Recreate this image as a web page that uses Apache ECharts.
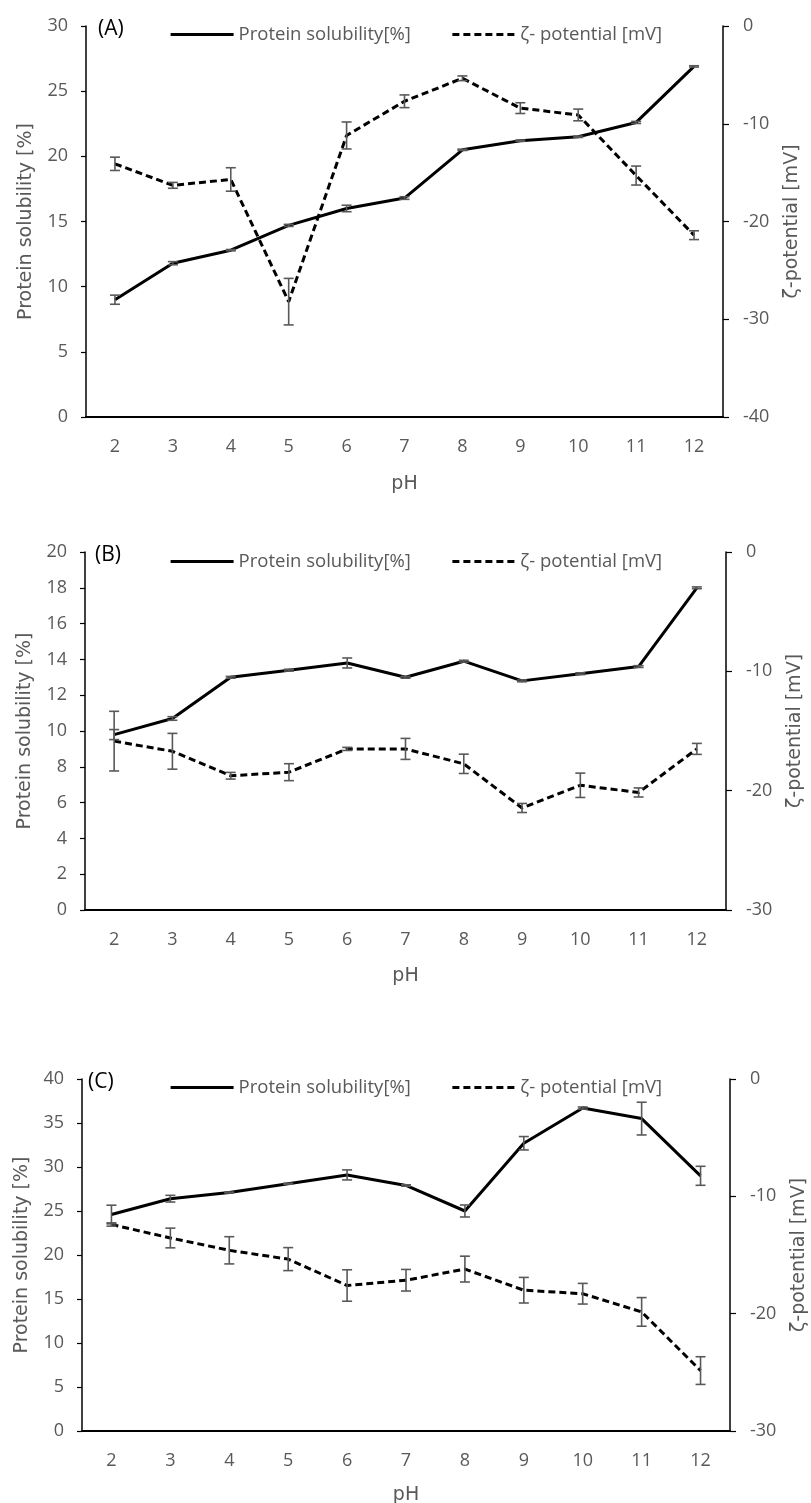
<!DOCTYPE html>
<html>
<head>
<meta charset="utf-8">
<script src="https://cdn.jsdelivr.net/npm/echarts@6/dist/echarts.min.js"></script>
<style>
  html, body { margin: 0; padding: 0; background: #fff; }
  #chart { width: 811px; height: 1503px; }
</style>
</head>
<body>
<div id="chart"></div>
<script>
// pH categories shared by all three panels
const pH = ['2', '3', '4', '5', '6', '7', '8', '9', '10', '11', '12'];

// Panel (A)
const solubilityA    = [9.0, 11.8, 12.8, 14.7, 16.0, 16.8, 20.5, 21.2, 21.5, 22.6, 26.9];
const solubilityAErr = [0.35, 0.12, 0.05, 0.08, 0.25, 0.1, 0.05, 0.05, 0.05, 0.08, 0.05];
const zetaA          = [-14.1, -16.3, -15.7, -28.2, -11.2, -7.7, -5.35, -8.4, -9.1, -15.3, -21.4];
const zetaAErr       = [0.68, 0.3, 1.2, 2.38, 1.38, 0.65, 0.24, 0.55, 0.6, 0.97, 0.45];

// Panel (B)
const solubilityB    = [9.8, 10.7, 13.0, 13.4, 13.8, 13.0, 13.9, 12.8, 13.2, 13.6, 18.0];
const solubilityBErr = [0.28, 0.1, 0.05, 0.05, 0.28, 0.05, 0.05, 0.05, 0.05, 0.05, 0.05];
const zetaB          = [-15.85, -16.7, -18.75, -18.45, -16.5, -16.5, -17.75, -21.45, -19.55, -20.15, -16.5];
const zetaBErr       = [2.5, 1.5, 0.28, 0.71, 0.13, 0.88, 0.81, 0.38, 1.02, 0.38, 0.46];

// Panel (C)
const solubilityC    = [24.6, 26.4, 27.1, 28.1, 29.1, 27.9, 25.0, 32.7, 36.7, 35.5, 29.0];
const solubilityCErr = [1.06, 0.38, 0.05, 0.05, 0.57, 0.08, 0.68, 0.76, 0.12, 1.86, 1.08];
const zetaC          = [-12.4, -13.55, -14.6, -15.35, -17.6, -17.15, -16.2, -18.0, -18.3, -19.85, -24.85];
const zetaCErr       = [0.14, 0.84, 1.16, 0.98, 1.34, 0.92, 1.1, 1.09, 0.88, 1.22, 1.18];

// Axis ranges
const solAxes  = [{ max: 30, step: 5 }, { max: 20, step: 2 }, { max: 40, step: 5 }];
const zetaAxes = [{ min: -40, step: 10 }, { min: -30, step: 10 }, { min: -30, step: 10 }];

const panelTags = ['(A)', '(B)', '(C)'];
const solName = 'Protein solubility[%]';
const zetaName = 'ζ- potential [mV]';

const panels = [
  { sol: solubilityA, solErr: solubilityAErr, zeta: zetaA, zetaErr: zetaAErr },
  { sol: solubilityB, solErr: solubilityBErr, zeta: zetaB, zetaErr: zetaBErr },
  { sol: solubilityC, solErr: solubilityCErr, zeta: zetaC, zetaErr: zetaCErr }
];

// Plot-area geometry for each panel
const frames = [
  { left: 86, right: 88, top: 26, height: 391, tagX: 98, legendTop: 20, pHGap: 58 },
  { left: 85, right: 85, top: 552, height: 358, tagX: 95, legendTop: 547, pHGap: 57 },
  { left: 82, right: 81, top: 1079, height: 352, tagX: 88, legendTop: 1073, pHGap: 55 }
];

const GREY = '#595959';
const tickFont = { color: GREY, fontSize: 18, fontFamily: 'Open Sans' };
const nameFont = { color: GREY, fontSize: 19, fontFamily: 'DejaVu Sans' };

// Vertical error bar with caps, drawn from [index, low, high]
function errorBar(params, api) {
  const x = api.value(0);
  const lo = api.coord([x, api.value(1)]);
  const hi = api.coord([x, api.value(2)]);
  const cap = 5;
  const style = { stroke: GREY, lineWidth: 1.6 };
  return {
    type: 'group',
    children: [
      { type: 'line', shape: { x1: lo[0], y1: lo[1], x2: hi[0], y2: hi[1] }, style },
      { type: 'line', shape: { x1: lo[0] - cap, y1: lo[1], x2: lo[0] + cap, y2: lo[1] }, style },
      { type: 'line', shape: { x1: hi[0] - cap, y1: hi[1], x2: hi[0] + cap, y2: hi[1] }, style }
    ]
  };
}

function bars(values, errs) {
  return values.map((v, i) => [i, v - errs[i], v + errs[i]]);
}

const grid = [], xAxis = [], yAxis = [], series = [], legend = [], title = [];

panels.forEach((p, i) => {
  const f = frames[i];
  grid.push({ left: f.left, right: f.right, top: f.top, height: f.height, containLabel: false, outerBoundsMode: 'none' });

  xAxis.push({
    type: 'category', gridIndex: i, data: pH, boundaryGap: true,
    name: 'pH', nameLocation: 'middle', nameGap: f.pHGap, nameTextStyle: nameFont,
    axisLine: { lineStyle: { color: '#000', width: 2 } },
    axisTick: { inside: true, length: 6, lineStyle: { color: '#000', width: 1.5 } },
    axisLabel: Object.assign({ margin: 21 }, tickFont),
    splitLine: { show: false }
  });

  yAxis.push({
    type: 'value', gridIndex: i, position: 'left',
    min: 0, max: solAxes[i].max, interval: solAxes[i].step,
    name: 'Protein solubility [%]', nameLocation: 'middle', nameGap: 50, nameTextStyle: nameFont,
    axisLine: { show: true, lineStyle: { color: '#000', width: 1.5 } },
    axisTick: { show: true, length: 5, lineStyle: { color: '#000', width: 1.2 } },
    axisLabel: Object.assign({ margin: 18 }, tickFont),
    splitLine: { show: false }
  });

  yAxis.push({
    type: 'value', gridIndex: i, position: 'right',
    min: zetaAxes[i].min, max: 0, interval: zetaAxes[i].step,
    name: 'ζ-potential [mV]', nameLocation: 'middle', nameGap: 60, nameTextStyle: nameFont,
    axisLine: { show: true, lineStyle: { color: '#000', width: 1.5 } },
    axisTick: { show: true, length: 6, lineStyle: { color: '#000', width: 1.2 } },
    axisLabel: Object.assign({ margin: 20 }, tickFont),
    splitLine: { show: false }
  });

  const solY = i * 2, zetaY = i * 2 + 1;

  series.push({
    name: solName, type: 'line', xAxisIndex: i, yAxisIndex: solY,
    data: p.sol, symbol: 'none', z: 3,
    lineStyle: { color: '#000', width: 3, type: 'solid' }, itemStyle: { color: '#000' }
  });
  series.push({
    name: zetaName, type: 'line', xAxisIndex: i, yAxisIndex: zetaY,
    data: p.zeta, symbol: 'none', z: 3,
    lineStyle: { color: '#000', width: 3, type: [7, 4] }, itemStyle: { color: '#000' }
  });
  series.push({
    type: 'custom', xAxisIndex: i, yAxisIndex: solY, z: 4,
    renderItem: errorBar, data: bars(p.sol, p.solErr), silent: true
  });
  series.push({
    type: 'custom', xAxisIndex: i, yAxisIndex: zetaY, z: 4,
    renderItem: errorBar, data: bars(p.zeta, p.zetaErr), silent: true
  });

  legend.push({
    left: 164, top: f.legendTop, orient: 'horizontal',
    itemWidth: 63, itemHeight: 14, itemGap: 40, selectedMode: false,
    itemStyle: { opacity: 0 },
    lineStyle: { width: 3.2 },
    data: [{ name: solName }, { name: zetaName }],
    textStyle: { color: GREY, fontSize: 18.5, fontFamily: 'Open Sans', padding: [0, 0, 0, 0] }
  });

  title.push({
    text: panelTags[i], left: f.tagX, top: f.top - 7,
    textStyle: { color: '#000', fontSize: 21, fontWeight: 'normal', fontFamily: 'Open Sans' },
    padding: 0
  });
});

const chart = echarts.init(document.getElementById('chart'), null, { renderer: 'canvas' });
chart.setOption({
  backgroundColor: '#fff',
  animation: false,
  title, legend, grid, xAxis, yAxis, series
});
</script>
</body>
</html>
